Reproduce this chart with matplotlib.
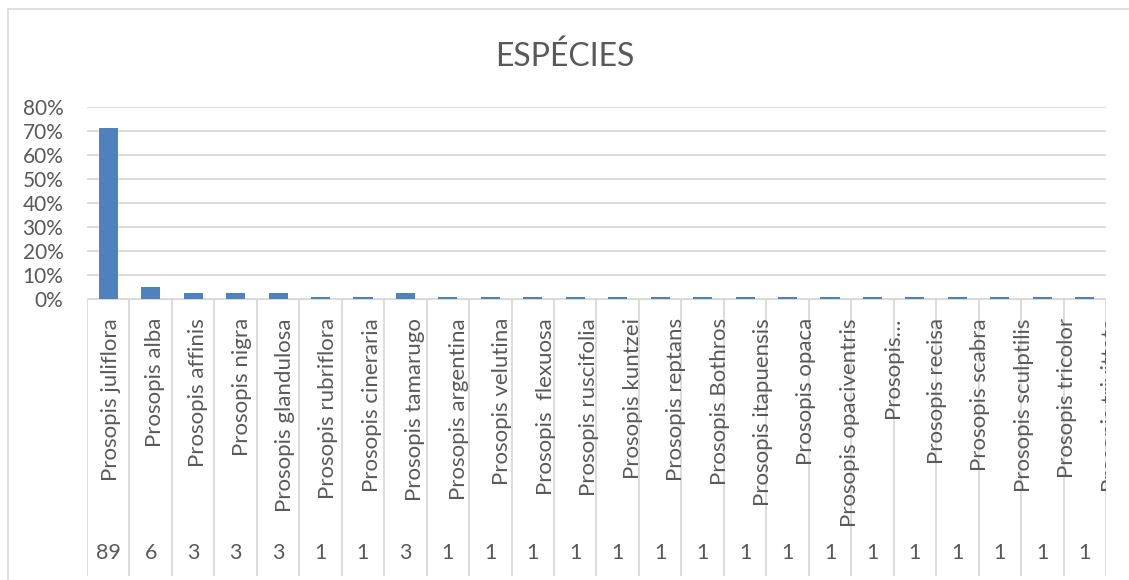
import matplotlib
matplotlib.use("Agg")
import matplotlib.pyplot as plt
from matplotlib.patches import Rectangle
from matplotlib.ticker import PercentFormatter

species = ['Prosopis juliflora', 'Prosopis alba', 'Prosopis affinis', 'Prosopis nigra',
           'Prosopis glandulosa', 'Prosopis rubriflora', 'Prosopis cineraria', 'Prosopis tamarugo',
           'Prosopis argentina', 'Prosopis velutina', 'Prosopis  flexuosa', 'Prosopis ruscifolia',
           'Prosopis kuntzei', 'Prosopis reptans', 'Prosopis Bothros', 'Prosopis itapuensis',
           'Prosopis opaca', 'Prosopis opaciventris', 'Prosopis\u2026', 'Prosopis recisa',
           'Prosopis scabra', 'Prosopis sculptilis', 'Prosopis tricolor', 'Prosopis trivittata']
counts = [89, 6, 3, 3, 3, 1, 1, 3, 1, 1, 1, 1, 1, 1, 1, 1, 1, 1, 1, 1, 1, 1, 1, 1]

total = sum(counts)
shares = [c / total for c in counts]

W, H = 1129, 580
TXT = '#595959'
GRID = '#D9D9D9'
BLUE = '#4F81BD'
FONT = 'Lato'

fig = plt.figure(figsize=(W / 100, H / 100), dpi=100)
fig.patch.set_facecolor('white')

# chart border (only left and top fall inside the picture)
fig.patches.append(Rectangle((8 / W, -0.1), 1.2, (H - 9) / H + 0.1, transform=fig.transFigure,
                             fill=False, edgecolor=GRID, lw=1.2, clip_on=False))

x0, x1 = 87, 1106
ax = fig.add_axes([x0 / W, (H - 299) / H, (x1 - x0) / W, (299 - 107) / H])
tab = fig.add_axes([x0 / W, (H - 576) / H, (x1 - x0) / W, (576 - 299) / H], sharex=ax)

n = len(species)
xs = list(range(n))
ax.bar(xs, shares, width=0.45, color=BLUE, zorder=3)
ax.set_xlim(-0.5, n - 0.5)
ax.set_ylim(0, 0.8)
ax.set_yticks([i / 10 for i in range(9)])
ax.yaxis.set_major_formatter(PercentFormatter(1.0, decimals=0))
ax.tick_params(axis='y', length=0, pad=17, labelsize=15, labelcolor=TXT)
ax.tick_params(axis='x', length=0, labelbottom=False)
for lab in ax.get_yticklabels():
    lab.set_fontfamily(FONT)
ax.grid(axis='y', color=GRID, lw=1.3, zorder=0)
for s in ax.spines.values():
    s.set_visible(False)

fig.text(0.5, (H - 57) / H, 'ESPÉCIES', ha='center', va='center', fontsize=23,
         color=TXT, fontfamily=FONT)

# data table under the bars
tab.set_ylim(0, 1)
tab.axis('off')
tab.axhline(1, color=GRID, lw=1.5)
for k in range(n + 1):
    tab.axvline(k - 0.5, color=GRID, lw=1.3)
for i, (name, c) in enumerate(zip(species, counts)):
    tab.text(i * 1.0235 + 0.07, 0.931, name, rotation=90, ha='center', va='top',
             fontsize=16, color=TXT, fontfamily=FONT, clip_on=True)
    tab.text(i, 0.083, str(c), ha='center', va='center', fontsize=15.5,
             color=TXT, fontfamily=FONT)

fig.savefig('out.png', dpi=100)
